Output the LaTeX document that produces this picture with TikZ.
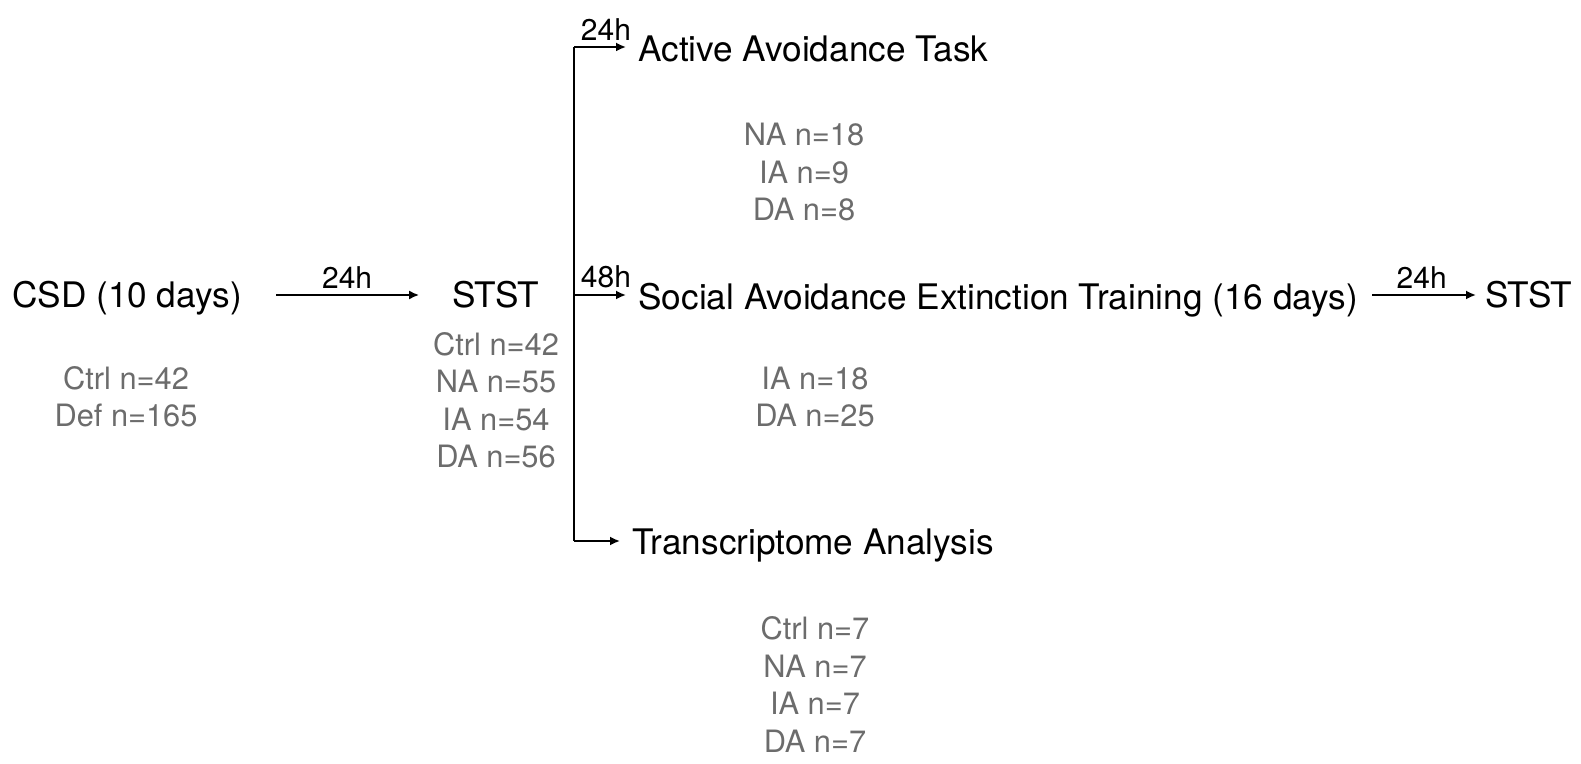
\documentclass[tikz,border=0pt]{standalone}
\usepackage{fontspec}
\setmainfont{TeX Gyre Heros}
\usetikzlibrary{arrows.meta}
\definecolor{ngray}{RGB}{108,108,108}

\begin{document}
\begin{tikzpicture}[x=0.5pt,y=-0.5pt,
    every node/.style={inner sep=0pt},
    stage/.style={font=\fontsize{17.6}{21}\selectfont},
    count/.style={font=\fontsize{15.4}{18.75}\selectfont,text=ngray,align=center,anchor=base},
    delay/.style={font=\fontsize{15}{18}\selectfont,above=3pt},
    wire/.style={line width=0.9pt},
    flow/.style={wire,-{Latex[length=5pt,width=4.5pt]}}]
    \useasboundingbox (0,0) rectangle (1581,764);
    \node[stage,anchor=base] (csd) at (127,308) {CSD (10 days)};
    \node[count] (csdn) at (126,427) {Ctrl n=42\\Def n=165};
    \node[stage,anchor=base] (stst) at (496,308) {STST};
    \node[count] (ststn) at (496,468) {Ctrl n=42\\NA n=55\\IA n=54\\DA n=56};
    \node[stage,anchor=base west] (aat) at (638,62) {Active Avoidance Task};
    \node[count] (aatn) at (804,221) {NA n=18\\IA n=9\\DA n=8};
    \node[stage,anchor=base west] (sae) at (638,310) {Social Avoidance Extinction Training (16 days)};
    \node[count] (saen) at (815,427) {IA n=18\\DA n=25};
    \node[stage,anchor=base west] (trans) at (632,555) {Transcriptome Analysis};
    \node[count] (transn) at (815,752) {Ctrl n=7\\NA n=7\\IA n=7\\DA n=7};
    \node[stage,anchor=base west] (stst2) at (1485,308) {STST};
    \coordinate (ftop) at (574,47);
    \coordinate (fbot) at (574,541);
    \path ([yshift=7.5pt]sae.base west) coordinate (saein);
    \path ([yshift=7.5pt]sae.base east) coordinate (saeout);
    \draw[flow,shorten <=17pt,shorten >=16.5pt] ([yshift=6.5pt]csd.base east) -- ([yshift=6.5pt]stst.base west) node[delay,midway] (d1) {24h};
    \draw[wire] (ftop) -- (fbot);
    \draw[flow,shorten >=6pt] (ftop) -- (ftop -| aat.west) node[delay,midway] (d2) {24h};
    \draw[flow,shorten >=6pt] (saein -| ftop) -- (saein) node[delay,midway] (d3) {48h};
    \draw[flow,shorten >=6pt] (fbot) -- (fbot -| trans.west);
    \draw[flow,shorten <=7pt,shorten >=4.5pt] (saeout) -- (saeout -| stst2.west) node[delay,midway] (d4) {24h};
\end{tikzpicture}
\end{document}
